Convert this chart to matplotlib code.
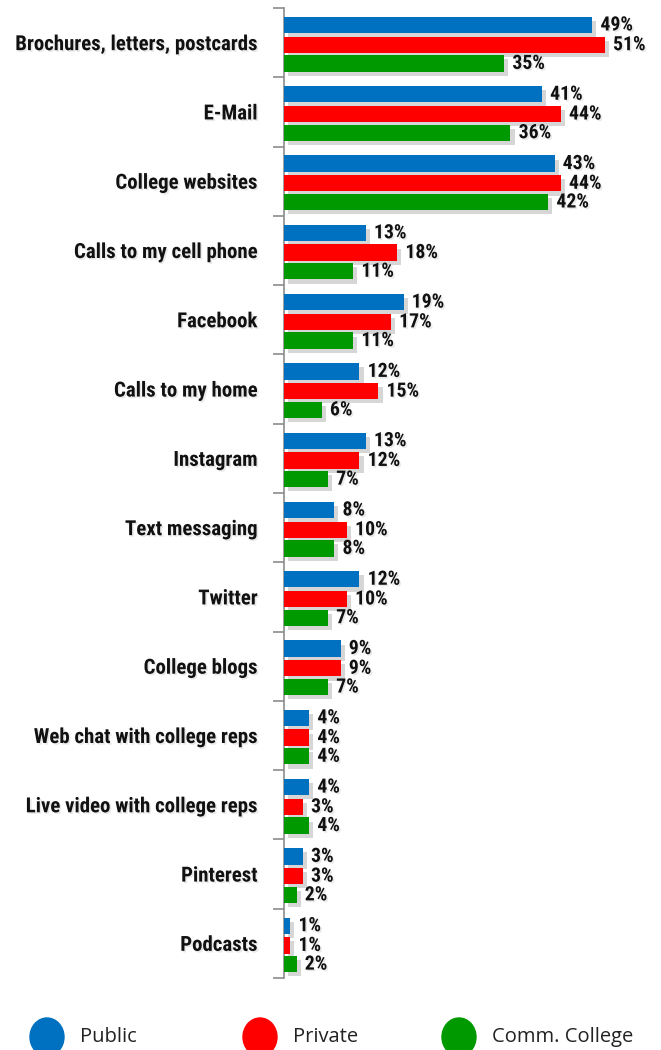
import numpy as np
import matplotlib
matplotlib.use("Agg")
from matplotlib import pyplot as plt
from matplotlib import font_manager as fm
from matplotlib import patheffects as pe
from matplotlib.patches import Ellipse

categories = ["Brochures, letters, postcards", "E-Mail", "College websites",
              "Calls to my cell phone", "Facebook", "Calls to my home",
              "Instagram", "Text messaging", "Twitter", "College blogs",
              "Web chat with college reps", "Live video with college reps",
              "Pinterest", "Podcasts"]
public = [49, 41, 43, 13, 19, 12, 13, 8, 12, 9, 4, 4, 3, 1]
private = [51, 44, 44, 18, 17, 15, 12, 10, 10, 9, 4, 3, 3, 1]
comm_college = [35, 36, 42, 11, 11, 6, 7, 8, 7, 7, 4, 4, 2, 2]
series_names = ["Public", "Private", "Comm. College"]
colors = ["#0070C0", "#FF0000", "#009900"]


def pick_font(names):
    for n in names:
        try:
            fm.findfont(n, fallback_to_default=False)
            return n
        except ValueError:
            pass
    return "DejaVu Sans"

narrow = pick_font(["Liberation Sans Narrow", "Roboto Condensed", "DejaVu Sans"])
plain = pick_font(["Open Sans", "Lato", "DejaVu Sans"])

fig = plt.figure(figsize=(6.61, 10.5), dpi=100)
ax = fig.add_axes([284/661, 1 - 978/1050, 346/661, 970/1050])

n = len(categories)
y = np.arange(n)
offsets = [-0.285, 0.0, 0.27]
bar_h = 0.235
shadow = [pe.SimplePatchShadow(offset=(3, -3), shadow_rgbFace="#999999", alpha=0.4), pe.Normal()]
txt_shadow = [pe.SimplePatchShadow(offset=(1.2, -1.2), shadow_rgbFace="#aaaaaa", alpha=0.25), pe.Normal()]

for vals, off, c in zip([public, private, comm_college], offsets, colors):
    bars = ax.barh(y + off + 0.03, vals, height=bar_h, color=c, zorder=3)
    for b, v in zip(bars, vals):
        b.set_path_effects(shadow)
        ax.text(v + 1.3, b.get_y() + b.get_height() / 2, f"{v}%", va="center", ha="left",
                fontsize=14.2, fontweight="bold", family=[narrow, "DejaVu Sans"],
                color="#111111", path_effects=txt_shadow)

ax.set_xlim(0, 55)
ax.set_ylim(n - 0.5, -0.5)

# category labels at group centres, boundary ticks as minor ticks
ax.set_yticks(y)
ax.set_yticklabels(categories, fontsize=15, fontweight="bold", family=[narrow, "DejaVu Sans"],
                   color="#111111")
ax.tick_params(axis="y", which="major", length=0, pad=19)
ax.set_yticks(np.arange(n + 1) - 0.5, minor=True)
ax.tick_params(axis="y", which="minor", length=8, width=1.2, color="#8c8c8c", direction="out")
for lbl in ax.get_yticklabels():
    lbl.set_path_effects(txt_shadow)
ax.set_xticks([])
for s in ["top", "right", "bottom"]:
    ax.spines[s].set_visible(False)
ax.spines["left"].set_color("#8c8c8c")
ax.spines["left"].set_linewidth(1.2)

# legend row along the bottom edge
leg_x = [47, 260, 459]
for lx, c, name in zip(leg_x, colors, series_names):
    fig.patches.append(Ellipse((lx / 661, 1 - 1037 / 1050), 34 / 661, 38 / 1050,
                               transform=fig.transFigure, color=c, zorder=5))
    fig.text((lx + 33) / 661, 1 - 1037 / 1050, name, fontsize=14.5, family=[plain, "DejaVu Sans"],
             va="center", ha="left", color="#222222")

fig.savefig("out.png", dpi=100)
